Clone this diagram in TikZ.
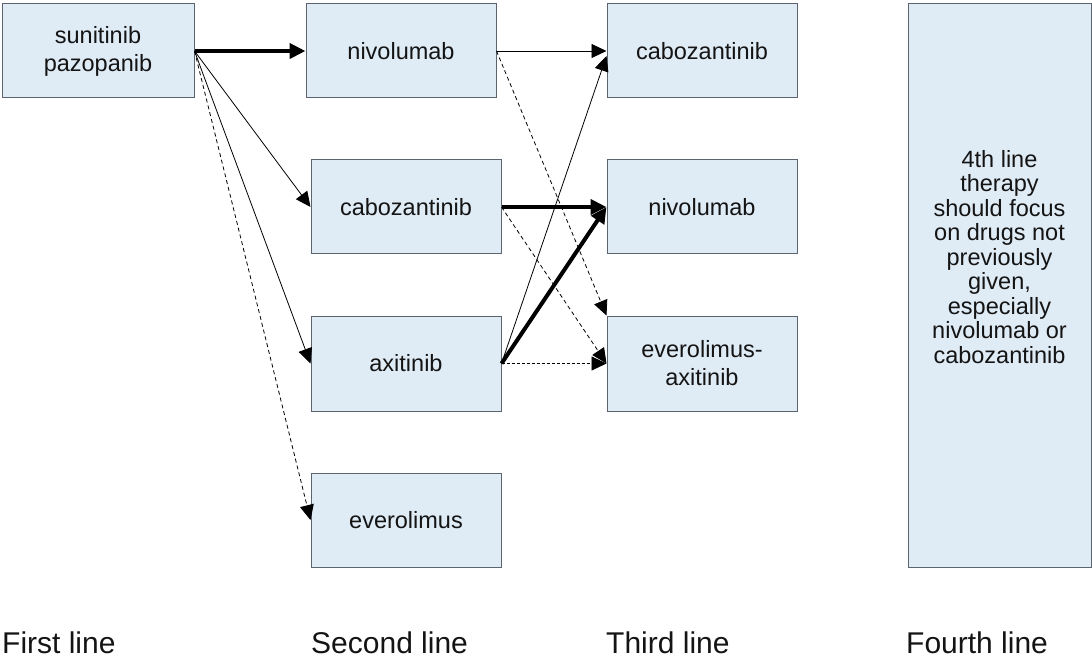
\documentclass[tikz,border=0pt]{standalone}
\usepackage{fontspec}
\setmainfont{Liberation Sans}
\usetikzlibrary{arrows.meta,calc}
\definecolor{boxfill}{RGB}{223,235,245}
\definecolor{boxline}{RGB}{92,100,112}
\definecolor{txt}{RGB}{20,20,20}
\begin{document}
\begin{tikzpicture}[x=1pt,y=-1pt,
  drug/.style={draw=boxline,fill=boxfill,line width=1pt,minimum width=190pt,minimum height=94pt,inner sep=0pt,
    align=center,text=txt,font=\fontsize{23.5}{28}\selectfont},
  linelabel/.style={anchor=base west,inner sep=0pt,text=txt,font=\fontsize{30}{36}\selectfont},
  thin/.style={line width=0.8pt,-{Triangle[length=15pt,width=14pt]}},
  thick/.style={line width=4pt,-{Triangle[length=16pt,width=15pt]}},
  dsh/.style={thin,dash pattern=on 4pt off 3pt},
  dtt/.style={thin,dash pattern=on 3pt off 2pt}]
\useasboundingbox (0,0) rectangle (1092,660);
% boxes
\node[drug,minimum width=192pt] (s1) at (98,51) {sunitinib\\pazopanib};
\node[drug] (n2) at (401,51) {nivolumab};
\node[drug] (c2) at (406,207) {cabozantinib};
\node[drug,minimum height=95pt] (a2) at (406,363.5) {axitinib};
\node[drug] (e2) at (406,520) {everolimus};
\node[drug] (c3) at (702,51) {cabozantinib};
\node[drug] (n3) at (702,207) {nivolumab};
\node[drug,minimum height=95pt] (ea3) at (702,363.5) {everolimus-\\axitinib};
\node[drug,minimum width=183pt,minimum height=563pt] (f4) at (999.5,285.5) {};
\node[align=center,text=txt,inner sep=0pt,font=\fontsize{23.5}{24.5}\selectfont] (f4t) at (999.5,257)
  {4th line\\therapy\\should focus\\on drugs not\\previously\\given,\\especially\\nivolumab or\\cabozantinib};
\coordinate (c3low) at ($(c3.west)+(0,5)$);
% connectors
\draw[thick] (s1.east) -- (n2.west);
\draw[thin] (s1.east) -- (c2.west);
\draw[thin] (s1.east) -- (a2.west);
\draw[dsh] (s1.east) -- (e2.west);
\draw[thin] (n2.east) -- (c3.west);
\draw[dsh] (n2.east) -- (ea3.north west);
\draw[thick] (c2.east) -- (n3.west);
\draw[dsh] (c2.east) -- (ea3.west);
\draw[thin] (a2.east) -- (c3low);
\draw[thick] (a2.east) -- (n3.west);
\draw[dtt] (a2.east) -- (ea3.west);
% column labels
\node[linelabel] (l1) at (2,653) {First line};
\node[linelabel] (l2) at (311,653) {Second line};
\node[linelabel] (l3) at (606,653) {Third line};
\node[linelabel] (l4) at (906,653) {Fourth line};
\end{tikzpicture}
\end{document}
